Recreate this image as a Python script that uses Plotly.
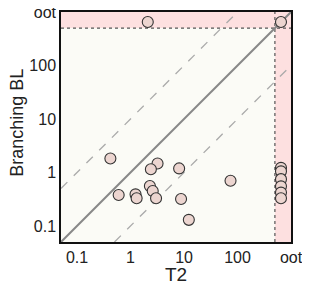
import plotly.graph_objects as go

# data
t2_vals = [0.42, 3.2, 2.4, 8.1, 0.6, 1.24, 1.3, 2.3, 2.6, 3.0, 8.8, 12.3, 74,
           650, 650, 650, 650, 650, 650, 2.1, 650]
bl_vals = [1.83, 1.47, 1.15, 1.19, 0.38, 0.39, 0.33, 0.56, 0.45, 0.33, 0.32, 0.13, 0.70,
           1.22, 1.05, 0.75, 0.55, 0.42, 0.33, 650, 650]
tick_vals = [0.1, 1, 10, 100, 1000]
tick_text = ["0.1", "1", "10", "100", "oot"]
OOT = 500
LO, HI = 10 ** -1.3, 1000

pink = "#fde0e0"
fig = go.Figure()
# out-of-time shaded regions
fig.add_trace(go.Scatter(x=[OOT, HI, HI, OOT, OOT], y=[LO, LO, HI, HI, LO], fill="toself",
                         fillcolor=pink, line=dict(width=0), mode="lines", hoverinfo="skip"))
fig.add_trace(go.Scatter(x=[LO, HI, HI, LO, LO], y=[OOT, OOT, HI, HI, OOT], fill="toself",
                         fillcolor=pink, line=dict(width=0), mode="lines", hoverinfo="skip"))
# dotted boundaries
fig.add_trace(go.Scatter(x=[OOT, OOT], y=[LO, HI], mode="lines",
                         line=dict(color="#555", width=1.2, dash="dot")))
fig.add_trace(go.Scatter(x=[LO, HI], y=[OOT, OOT], mode="lines",
                         line=dict(color="#555", width=1.2, dash="dot")))
# diagonal lines
fig.add_trace(go.Scatter(x=[LO, HI], y=[LO, HI], mode="lines",
                         line=dict(color="#888", width=2)))
fig.add_trace(go.Scatter(x=[LO, HI / 10], y=[LO * 10, HI], mode="lines",
                         line=dict(color="#aaa", width=1.3, dash="dash")))
fig.add_trace(go.Scatter(x=[LO * 10, HI], y=[LO, HI / 10], mode="lines",
                         line=dict(color="#aaa", width=1.3, dash="dash")))
# points
fig.add_trace(go.Scatter(x=t2_vals, y=bl_vals, mode="markers",
                         marker=dict(size=11, color="#ecd5d0",
                                     line=dict(color="#333", width=1.1))))

axis_common = dict(type="log", range=[-1.3, 3.0], tickvals=tick_vals, ticktext=tick_text,
                   showgrid=False, zeroline=False, showline=True, linecolor="#111",
                   linewidth=1.5, mirror=True, ticks="", automargin=False,
                   ticklabeloverflow="allow",
                   tickfont=dict(size=16, color="#222"))
# page body has an 8px default margin, so the figure is 8px smaller and shifted
fig.update_layout(
    width=302, height=282,
    margin=dict(l=53, r=19, t=4, b=48, autoexpand=False),
    paper_bgcolor="white", plot_bgcolor="#fbfbf6",
    showlegend=False,
    font=dict(family="Liberation Sans, Arial, sans-serif", color="#222"),
    xaxis=dict(**axis_common),
    yaxis=dict(**axis_common),
    annotations=[
        dict(text="T2", xref="paper", yref="paper", x=0.5, y=-0.142, xanchor="center",
             yanchor="middle", showarrow=False, font=dict(size=19)),
        dict(text="Branching BL", xref="paper", yref="paper", x=-0.19, y=0.52,
             xanchor="center", yanchor="middle", textangle=-90, showarrow=False,
             font=dict(size=18)),
    ],
)
fig.write_html("out.html")
